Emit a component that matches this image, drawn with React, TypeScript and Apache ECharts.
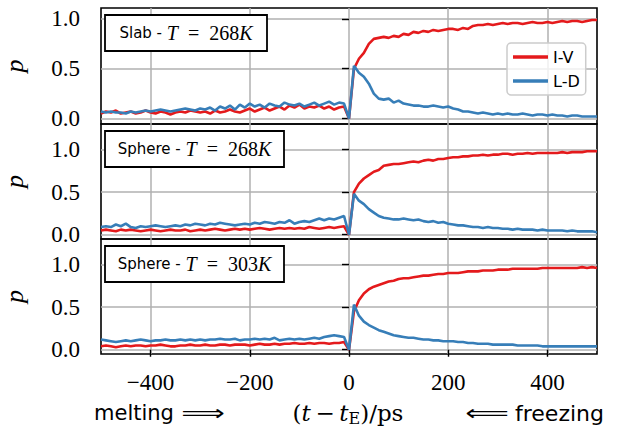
import React, { useEffect, useRef } from "react";
import * as echarts from "echarts";

// time grid: -500 ... 500 ps in 10 ps steps
const T_START = -500;
const T_STEP = 10;

const X_TICKS = [-400, -200, 0, 200, 400];
const Y_TICKS = [0, 0.5, 1.0];

const SERIES_NAMES = ["I-V", "L-D"];

// Panel 1: Slab - T = 268K
const SLAB268_IV = [
  0.05, 0.07, 0.06, 0.08, 0.05, 0.06, 0.07, 0.05, 0.06, 0.08,
  0.06, 0.05, 0.07, 0.06, 0.04, 0.06, 0.07, 0.06, 0.08, 0.07, 0.06,
  0.07, 0.05, 0.08, 0.06, 0.07, 0.09, 0.07, 0.06, 0.08, 0.10,
  0.07, 0.09, 0.11, 0.08, 0.10, 0.12, 0.09, 0.13, 0.11, 0.14,
  0.10, 0.12, 0.11, 0.13, 0.10, 0.12, 0.09, 0.11, 0.12,
  0.0,
  0.50, 0.60, 0.66, 0.75, 0.80, 0.81, 0.82, 0.81, 0.83, 0.82,
  0.85, 0.84, 0.87, 0.86, 0.88, 0.87, 0.89, 0.88, 0.89, 0.90,
  0.90, 0.89, 0.91, 0.90, 0.93, 0.94, 0.94, 0.95, 0.94, 0.95,
  0.96, 0.95, 0.96, 0.96, 0.95, 0.96, 0.97, 0.96, 0.96, 0.97,
  0.96, 0.97, 0.98, 0.97, 0.98, 0.98, 0.97, 0.98, 0.99, 0.99,
];
const SLAB268_LD = [
  0.07, 0.06, 0.07, 0.06, 0.06, 0.05, 0.07, 0.06, 0.07, 0.08,
  0.07, 0.08, 0.09, 0.08, 0.07, 0.08, 0.09, 0.10, 0.09, 0.08, 0.10,
  0.09, 0.11, 0.08, 0.12, 0.10, 0.13, 0.09, 0.14, 0.11, 0.15,
  0.12, 0.14, 0.11, 0.15, 0.13, 0.12, 0.16, 0.14, 0.13, 0.15,
  0.12, 0.14, 0.16, 0.13, 0.15, 0.17, 0.14, 0.16, 0.15,
  0.0,
  0.53, 0.46, 0.42, 0.35, 0.25, 0.20, 0.19, 0.20, 0.16, 0.18,
  0.15, 0.14, 0.13, 0.13, 0.12, 0.12, 0.13, 0.12, 0.11, 0.12,
  0.10, 0.09, 0.07, 0.07, 0.06, 0.05, 0.06, 0.05, 0.04, 0.05,
  0.04, 0.05, 0.04, 0.04, 0.05, 0.04, 0.03, 0.04, 0.04, 0.03,
  0.04, 0.03, 0.03, 0.02, 0.03, 0.03, 0.02, 0.02, 0.02, 0.02,
];

// Panel 2: Sphere - T = 268K
const SPHERE268_IV = [
  0.05, 0.06, 0.05, 0.04, 0.06, 0.05, 0.06, 0.05, 0.04, 0.05,
  0.06, 0.05, 0.04, 0.05, 0.06, 0.05, 0.05, 0.06, 0.04, 0.05,
  0.06, 0.05, 0.06, 0.07, 0.06, 0.05, 0.06, 0.07, 0.06, 0.07,
  0.06, 0.07, 0.08, 0.07, 0.06, 0.07, 0.08, 0.07, 0.08, 0.07,
  0.08, 0.07, 0.09, 0.08, 0.07, 0.08, 0.09, 0.08, 0.09, 0.10,
  0.0,
  0.50, 0.60, 0.66, 0.70, 0.74, 0.76, 0.81, 0.82, 0.83, 0.83,
  0.84, 0.85, 0.86, 0.85, 0.87, 0.88, 0.87, 0.89, 0.89, 0.90,
  0.91, 0.91, 0.92, 0.92, 0.93, 0.93, 0.94, 0.93, 0.94, 0.94,
  0.95, 0.95, 0.94, 0.95, 0.95, 0.96, 0.95, 0.96, 0.96, 0.96,
  0.96, 0.96, 0.97, 0.96, 0.97, 0.97, 0.97, 0.98, 0.98, 0.98,
];
const SPHERE268_LD = [
  0.09, 0.10, 0.09, 0.12, 0.10, 0.13, 0.09, 0.08, 0.10, 0.09,
  0.10, 0.11, 0.10, 0.09, 0.10, 0.11, 0.10, 0.12, 0.11, 0.13,
  0.12, 0.11, 0.13, 0.12, 0.14, 0.13, 0.12, 0.11, 0.12, 0.13,
  0.12, 0.14, 0.13, 0.15, 0.14, 0.13, 0.15, 0.14, 0.17, 0.13,
  0.15, 0.16, 0.15, 0.17, 0.19, 0.17, 0.19, 0.18, 0.20, 0.22,
  0.0,
  0.48, 0.40, 0.36, 0.30, 0.26, 0.22, 0.20, 0.19, 0.18, 0.18,
  0.19, 0.18, 0.17, 0.18, 0.16, 0.15, 0.16, 0.14, 0.15, 0.13,
  0.12, 0.11, 0.11, 0.10, 0.09, 0.09, 0.08, 0.09, 0.08, 0.08,
  0.07, 0.07, 0.06, 0.07, 0.06, 0.06, 0.06, 0.05, 0.06, 0.05,
  0.05, 0.05, 0.05, 0.04, 0.05, 0.04, 0.04, 0.04, 0.04, 0.03,
];

// Panel 3: Sphere - T = 303K
const SPHERE303_IV = [
  0.04, 0.05, 0.04, 0.03, 0.04, 0.05, 0.04, 0.05, 0.05, 0.04,
  0.05, 0.05, 0.06, 0.05, 0.04, 0.04, 0.05, 0.05, 0.06, 0.05,
  0.05, 0.06, 0.05, 0.05, 0.06, 0.06, 0.05, 0.06, 0.06, 0.06,
  0.05, 0.06, 0.07, 0.06, 0.06, 0.07, 0.06, 0.07, 0.07, 0.08,
  0.07, 0.07, 0.08, 0.07, 0.08, 0.08, 0.07, 0.08, 0.08, 0.09,
  0.0,
  0.45, 0.58, 0.66, 0.71, 0.74, 0.76, 0.78, 0.80, 0.81, 0.83,
  0.84, 0.84, 0.85, 0.86, 0.87, 0.87, 0.88, 0.89, 0.89, 0.90,
  0.90, 0.90, 0.91, 0.92, 0.92, 0.92, 0.93, 0.93, 0.93, 0.94,
  0.94, 0.94, 0.95, 0.95, 0.95, 0.95, 0.95, 0.95, 0.96, 0.96,
  0.96, 0.96, 0.96, 0.96, 0.96, 0.96, 0.97, 0.96, 0.97, 0.96,
];
const SPHERE303_LD = [
  0.12, 0.11, 0.10, 0.09, 0.10, 0.11, 0.10, 0.11, 0.12, 0.11,
  0.10, 0.11, 0.11, 0.12, 0.11, 0.11, 0.12, 0.11, 0.12, 0.11,
  0.12, 0.11, 0.12, 0.12, 0.13, 0.12, 0.12, 0.13, 0.11, 0.12,
  0.12, 0.13, 0.12, 0.13, 0.12, 0.14, 0.11, 0.12, 0.13, 0.12,
  0.13, 0.12, 0.13, 0.14, 0.13, 0.15, 0.16, 0.17, 0.16, 0.15,
  0.0,
  0.53, 0.40, 0.33, 0.29, 0.26, 0.23, 0.21, 0.19, 0.17, 0.16,
  0.15, 0.14, 0.14, 0.13, 0.12, 0.12, 0.11, 0.11, 0.10, 0.10,
  0.10, 0.09, 0.09, 0.08, 0.08, 0.07, 0.07, 0.07, 0.06, 0.06,
  0.06, 0.06, 0.06, 0.05, 0.05, 0.05, 0.05, 0.05, 0.04, 0.04,
  0.04, 0.04, 0.04, 0.04, 0.04, 0.04, 0.04, 0.04, 0.04, 0.04,
];

const PANEL_SHAPES = ["Slab", "Sphere", "Sphere"];
const PANEL_TEMPS = ["268", "268", "303"];
const PANEL_DATA = [
  [SLAB268_IV, SLAB268_LD],
  [SPHERE268_IV, SPHERE268_LD],
  [SPHERE303_IV, SPHERE303_LD],
];

const COLORS = ["#e41a1c", "#377eb8"];
const SERIF = "Liberation Serif";
const SERIF_WIDE = "DejaVu Serif";
const SANS = "DejaVu Sans";

// layout
const GRID_LEFT = 101;
const GRID_WIDTH = 496;
const GRID_TOPS = [8, 124, 239];
const GRID_HEIGHTS = [116, 115, 115];
const Y_LIMS = [
  [-0.055, 1.11],
  [-0.05, 1.3],
  [-0.05, 1.3],
];
const BOX_WIDTHS = [162, 179, 179];

const toPairs = (vals: number[]) => vals.map((v, i) => [T_START + i * T_STEP, v]);
const fmtMinus = (s: string) => s.replace("-", "\u2212");

export default function App() {
  const ref = useRef<HTMLDivElement>(null);

  useEffect(() => {
    if (!ref.current) return;
    const chart = echarts.init(ref.current, undefined, { renderer: "svg" });

    const grids = GRID_TOPS.map((top, i) => ({
      left: GRID_LEFT,
      width: GRID_WIDTH,
      top,
      height: GRID_HEIGHTS[i],
      show: true,
      borderColor: "#000",
      borderWidth: 1.6,
      backgroundColor: "transparent",
      containLabel: false,
      outerBoundsMode: "none",
    }));

    const xAxes = GRID_TOPS.map((_, i) => {
      const bottom = i === GRID_TOPS.length - 1;
      return {
        type: "value",
        gridIndex: i,
        min: -500,
        max: 500,
        axisLine: { show: false },
        axisTick: {
          show: bottom,
          length: 7,
          lineStyle: { color: "#000", width: 1.4 },
          customValues: X_TICKS,
        },
        axisLabel: {
          show: bottom,
          customValues: X_TICKS,
          formatter: (v: number) => fmtMinus(String(v)),
          fontFamily: SERIF,
          fontSize: 23,
          color: "#000",
          margin: 17,
        },
        splitLine: { show: true, lineStyle: { color: "#b0b0b0", width: 1.5 } },
      };
    });

    const yAxes = GRID_TOPS.map((_, i) => ({
      type: "value",
      gridIndex: i,
      min: Y_LIMS[i][0],
      max: Y_LIMS[i][1],
      axisLine: { show: false },
      axisTick: {
        show: true,
        length: 7,
        lineStyle: { color: "#000", width: 1.4 },
        customValues: Y_TICKS,
      },
      axisLabel: {
        customValues: Y_TICKS,
        formatter: (v: number) => v.toFixed(1),
        fontFamily: SERIF,
        fontSize: 23,
        color: "#000",
        margin: 21,
      },
      splitLine: { show: true, lineStyle: { color: "#b0b0b0", width: 1.5 } },
      name: "p",
      nameLocation: "middle",
      nameRotate: 90,
      nameGap: 74,
      nameTextStyle: { fontFamily: SERIF, fontStyle: "italic", fontSize: 26, color: "#000" },
    }));

    const series: any[] = [];
    PANEL_DATA.forEach((pair, i) => {
      pair.forEach((vals, k) => {
        series.push({
          name: SERIES_NAMES[k],
          type: "line",
          xAxisIndex: i,
          yAxisIndex: i,
          data: toPairs(vals),
          showSymbol: false,
          symbol: "none",
          lineStyle: { color: COLORS[k], width: 2.6 },
          itemStyle: { color: COLORS[k] },
          z: 3 + k,
        });
      });
    });

    const graphics: any[] = [];
    GRID_TOPS.forEach((top, i) => {
      const bx = GRID_LEFT + 4;
      const by = top + 7;
      const bw = BOX_WIDTHS[i];
      const bh = 36;
      graphics.push({
        type: "rect",
        shape: { x: bx, y: by, width: bw, height: bh },
        style: { fill: "#fff", stroke: "#000", lineWidth: 1.8 },
        z: 10,
      });
      graphics.push({
        type: "text",
        x: bx + bw / 2,
        y: by + bh / 2,
        z: 11,
        style: {
          text: `{a|${PANEL_SHAPES[i]} - }{i|T}{r|\u2002=\u2002${PANEL_TEMPS[i]}}{i|K}`,
          align: "center",
          verticalAlign: "middle",
          rich: {
            a: { fontFamily: SANS, fontSize: 15, fill: "#000" },
            i: { fontFamily: SERIF, fontStyle: "italic", fontSize: 20, fill: "#000" },
            r: { fontFamily: SERIF, fontSize: 20, fill: "#000" },
          },
        },
      });
    });

    // bottom label line
    const LABEL_Y = 413;
    graphics.push({
      type: "text",
      x: 94,
      y: LABEL_Y,
      style: { text: "melting", align: "left", verticalAlign: "middle", fontFamily: SANS, fontSize: 21, fill: "#000" },
    });
    graphics.push({
      type: "text",
      x: 203,
      y: LABEL_Y,
      scaleX: 1.45,
      style: { text: "\u27F9", align: "center", verticalAlign: "middle", fontFamily: SANS, fontSize: 21, fill: "#000" },
    });
    graphics.push({
      type: "text",
      x: 348,
      y: LABEL_Y,
      style: {
        text: "{r|(}{i|t}{r|\u2009\u2212\u2009}{i|t}{s|E}{r|)/ps}",
        align: "center",
        verticalAlign: "middle",
        rich: {
          r: { fontFamily: SERIF_WIDE, fontSize: 23, fill: "#000" },
          i: { fontFamily: SERIF_WIDE, fontStyle: "italic", fontSize: 23, fill: "#000" },
          s: { fontFamily: SERIF_WIDE, fontSize: 16, fill: "#000", padding: [10, 0, 0, 0] },
        },
      },
    });
    graphics.push({
      type: "text",
      x: 487,
      y: LABEL_Y,
      scaleX: 1.45,
      style: { text: "\u27F8", align: "center", verticalAlign: "middle", fontFamily: SANS, fontSize: 21, fill: "#000" },
    });
    graphics.push({
      type: "text",
      x: 515,
      y: LABEL_Y,
      style: { text: "freezing", align: "left", verticalAlign: "middle", fontFamily: SANS, fontSize: 22, fill: "#000" },
    });

    chart.setOption({
      animation: false,
      backgroundColor: "#fff",
      grid: grids,
      xAxis: xAxes,
      yAxis: yAxes,
      series,
      legend: {
        data: SERIES_NAMES,
        orient: "vertical",
        left: 507,
        top: 43,
        icon: "rect",
        itemWidth: 35,
        itemHeight: 3.5,
        itemGap: 8,
        padding: [6, 6, 6, 6],
        backgroundColor: "rgba(255,255,255,0.8)",
        borderColor: "#cccccc",
        borderWidth: 1.5,
        borderRadius: 4,
        textStyle: { fontFamily: SANS, fontSize: 16, color: "#000" },
        z: 12,
      },
      graphic: graphics,
    });

    return () => chart.dispose();
  }, []);

  return <div ref={ref} style={{ position: "absolute", left: 0, top: 0, width: 623, height: 433 }} />;
}
